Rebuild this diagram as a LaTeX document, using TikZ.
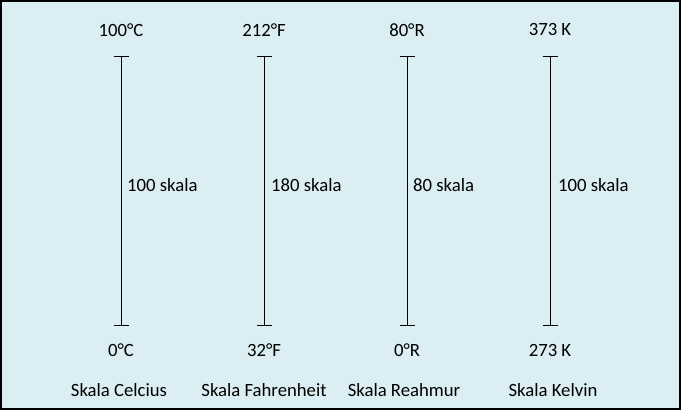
\documentclass[tikz,border=0pt]{standalone}
\usepackage{fontspec}
\setmainfont{Carlito}
\definecolor{skyfill}{RGB}{219, 238, 243}
\usetikzlibrary{arrows.meta, positioning}

\begin{document}
\begin{tikzpicture}[
  x=1pt, y=-1pt,
  lbl/.style={inner sep=0pt, font=\fontsize{18.7}{22}\selectfont},
  mid/.style={lbl, anchor=west},
  scaleline/.style={line width=1pt, {Bar[width=15pt]}-{Bar[width=15pt]}}
]
  \useasboundingbox (0,0) rectangle (682,411);
  \draw[line width=2pt, fill=skyfill] (1,1) rectangle (680,409);

  % Celsius
  \coordinate (ctop) at (121,56);
  \coordinate (cbot) at (121,326);
  \node[lbl] (cup) at (121,30) {100°C};
  \node[lbl] (clow) at (121,350) {0°C};
  \node[mid] (cmid) at (127,185) {100 skala};
  \node[lbl] (cname) at (119,390) {Skala Celcius};
  \draw[scaleline] (ctop) -- (cbot);

  % Fahrenheit
  \coordinate (ftop) at (264,56);
  \coordinate (fbot) at (264,326);
  \node[lbl] (fup) at (264,30) {212°F};
  \node[lbl] (flow) at (264,350) {32°F};
  \node[mid] (fmid) at (271,185) {180 skala};
  \node[lbl] (fname) at (264,390) {Skala Fahrenheit};
  \draw[scaleline] (ftop) -- (fbot);

  % Reaumur
  \coordinate (rtop) at (407,56);
  \coordinate (rbot) at (407,326);
  \node[lbl] (rup) at (407,30) {80°R};
  \node[lbl] (rlow) at (407,350) {0°R};
  \node[mid] (rmid) at (413,185) {80 skala};
  \node[lbl] (rname) at (404,390) {Skala Reahmur};
  \draw[scaleline] (rtop) -- (rbot);

  % Kelvin
  \coordinate (ktop) at (550,56);
  \coordinate (kbot) at (550,326);
  \node[lbl] (kup) at (550,30) {373 K};
  \node[lbl] (klow) at (550,350) {273 K};
  \node[mid] (kmid) at (558,185) {100 skala};
  \node[lbl] (kname) at (553,390) {Skala Kelvin};
  \draw[scaleline] (ktop) -- (kbot);
\end{tikzpicture}
\end{document}
